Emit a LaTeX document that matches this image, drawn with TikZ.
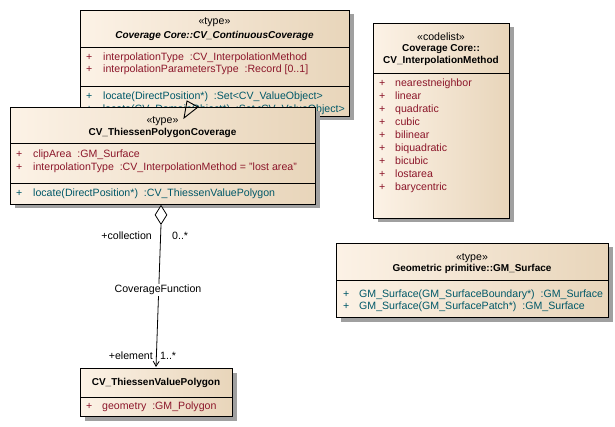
\documentclass[tikz,border=0pt]{standalone}
\usepackage{fontspec}
\setmainfont{Liberation Sans}
\usetikzlibrary{shapes.geometric,shadows,arrows.meta}
\definecolor{boxl}{RGB}{252,242,230}
\definecolor{boxr}{RGB}{232,213,186}
\definecolor{shadowgray}{RGB}{160,160,160}
\definecolor{attrc}{RGB}{140,22,42}
\definecolor{opc}{RGB}{0,88,104}
\newcommand\fs{\fontsize{10.6}{12}\selectfont}
\newcommand\fb{\fontsize{10}{12}\selectfont\bfseries}
\tikzset{
  umlbox/.style={draw, line width=1pt, left color=boxl, right color=boxr, inner sep=0pt,
    drop shadow={shadow xshift=4pt, shadow yshift=-4pt, fill=shadowgray, opacity=1}},
  divline/.style={line width=0.9pt},
  member/.style={anchor=mid west, inner sep=0pt, font=\fs},
  attr/.style={member, text=attrc},
  oper/.style={member, text=opc},
  ster/.style={anchor=mid, inner sep=0pt, font=\fs},
  ttl/.style={anchor=mid, inner sep=0pt, font=\fb, align=center},
  lbl/.style={inner sep=0pt, font=\fs}
}
\begin{document}
\begin{tikzpicture}[x=1pt,y=-1pt]
\useasboundingbox (0,0) rectangle (615,427);
% CV_ContinuousCoverage
\node[umlbox, minimum width=269pt, minimum height=106pt, anchor=north west] (cc) at (80,10) {};
\draw[divline] (80,47) -- (349,47);
\draw[divline] (80,86) -- (349,86);
\node[ster] (ccs) at (214.5,22) {«type»};
\node[ttl] (cct) at (214.5,36) {\itshape Coverage Core::CV\_ContinuousCoverage};
\node[attr] (cca1p) at (86,58) {+};
\node[attr] (cca1) at (103,58) {interpolationType\ \ :CV\_InterpolationMethod};
\node[attr] (cca2p) at (86,70) {+};
\node[attr] (cca2) at (103,70) {interpolationParametersType\ \ :Record [0..1]};
\node[oper] (cco1p) at (86,97) {+};
\node[oper] (cco1) at (103,97) {locate(DirectPosition*)\ \ :Set<CV\_ValueObject>};
\node[oper] (cco2p) at (86,110) {+};
\node[oper, anchor=mid east] (cco2) at (345,110) {locate(CV\_DomainObject*)\ \ :Set<CV\_ValueObject>};
% CV_ThiessenPolygonCoverage
\node[umlbox, minimum width=305pt, minimum height=97pt, anchor=north west] (tp) at (10,107) {};
\draw[divline] (10,143) -- (315,143);
\draw[divline] (10,183) -- (315,183);
\node[ster] (tps) at (162.5,121) {«type»};
\node[ttl] (tpt) at (162.5,133) {CV\_ThiessenPolygonCoverage};
\node[attr] (tpa1p) at (16,155) {+};
\node[attr] (tpa1) at (33,155) {clipArea\ \ :GM\_Surface};
\node[attr] (tpa2p) at (16,168) {+};
\node[attr] (tpa2) at (33,168) {interpolationType\ \ :CV\_InterpolationMethod = "lost area"};
\node[oper] (tpo1p) at (16,194) {+};
\node[oper] (tpo1) at (33,194) {locate(DirectPosition*)\ \ :CV\_ThiessenValuePolygon};
% CV_InterpolationMethod
\node[umlbox, minimum width=136pt, minimum height=195pt, anchor=north west] (im) at (373,23) {};
\draw[divline] (373,73) -- (509,73);
\node[ster] (ims) at (441,38) {«codelist»};
\node[ttl] (imt1) at (441,49) {Coverage Core::};
\node[ttl] (imt2) at (441,61) {CV\_InterpolationMethod};
\foreach \t [count=\i from 0] in {nearestneighbor,linear,quadratic,cubic,bilinear,biquadratic,bicubic,lostarea,barycentric}{
  \node[attr] (imp\i) at (379,84+13*\i) {+};
  \node[attr] (imv\i) at (395,84+13*\i) {\t};
}
% GM_Surface
\node[umlbox, minimum width=272pt, minimum height=74pt, anchor=north west] (gs) at (336,243) {};
\draw[divline] (336,280) -- (608,280);
\node[ster] (gss) at (472,258) {«type»};
\node[ttl] (gst) at (472,269) {Geometric primitive::GM\_Surface};
\node[oper] (gso1p) at (343,295) {+};
\node[oper] (gso1) at (359,295) {GM\_Surface(GM\_SurfaceBoundary*)\ \ :GM\_Surface};
\node[oper] (gso2p) at (343,307) {+};
\node[oper] (gso2) at (359,307) {GM\_Surface(GM\_SurfacePatch*)\ \ :GM\_Surface};
% CV_ThiessenValuePolygon
\node[umlbox, minimum width=152pt, minimum height=48pt, anchor=north west] (vp) at (80,368) {};
\draw[divline] (80,397) -- (232,397);
\node[ttl] (vpt) at (156,383) {CV\_ThiessenValuePolygon};
\node[attr] (vpa1p) at (86,407) {+};
\node[attr] (vpa1) at (102,407) {geometry\ \ :GM\_Polygon};
% generalization triangle
\draw[line width=0.9pt, line join=miter] (187,101) -- (198,107) -- (184,118) -- cycle;
% aggregation
\node[diamond, draw, line width=0.8pt, fill=white, inner sep=0pt, minimum width=12pt, minimum height=19pt, anchor=north] (dia) at (161,205) {};
\coordinate (vpend) at (156,367);
\draw[line width=0.8pt, -{Straight Barb[length=5pt,width=6pt]}] (dia.south) -- (vpend);
\node[lbl, fill=white, inner sep=1pt] (cf) at (158,290) {CoverageFunction};
\node[lbl, anchor=mid east] (l1) at (152,237) {+collection};
\node[lbl, anchor=mid west] (l2) at (172,237) {0..*};
\node[lbl, anchor=mid east] (l3) at (153,357) {+element};
\node[lbl, anchor=mid west] (l4) at (160,357) {1..*};
\end{tikzpicture}
\end{document}
